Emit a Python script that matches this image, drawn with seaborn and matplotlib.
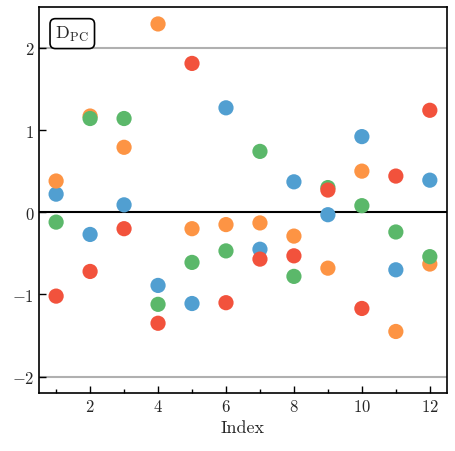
import matplotlib
matplotlib.use('Agg')
import matplotlib.pyplot as plt
from matplotlib.ticker import MultipleLocator
import pandas as pd
import seaborn as sns

# Values
index = [1, 2, 3, 4, 5, 6, 7, 8, 9, 10, 11, 12]
blue = [0.22, -0.27, 0.09, -0.89, -1.11, 1.27, -0.45, 0.37, -0.03, 0.92, -0.70, 0.39]
orange = [0.38, 1.17, 0.79, 2.29, -0.20, -0.15, -0.13, -0.29, -0.68, 0.50, -1.45, -0.63]
green = [-0.12, 1.14, 1.14, -1.12, -0.61, -0.47, 0.74, -0.78, 0.30, 0.08, -0.24, -0.54]
red = [-1.02, -0.72, -0.20, -1.35, 1.81, -1.10, -0.57, -0.53, 0.27, -1.17, 0.44, 1.24]

series = {'blue': blue, 'orange': orange, 'green': green, 'red': red}
colors = {'blue': '#519fd1', 'orange': '#fd9444', 'green': '#5bb86a', 'red': '#f2523c'}

df = pd.concat([pd.DataFrame({'Index': index, 'value': v, 'series': k}) for k, v in series.items()])

sns.set_style('white')
plt.rcParams['font.family'] = 'serif'
plt.rcParams['font.serif'] = ['cmr10']
plt.rcParams['mathtext.fontset'] = 'cm'
plt.rcParams['axes.formatter.use_mathtext'] = True

fig, ax = plt.subplots(figsize=(4.55, 4.52), dpi=100)

ax.axhline(2, color='#b0b0b0', lw=1.5, zorder=0)
ax.axhline(-2, color='#b0b0b0', lw=1.5, zorder=0)
ax.axhline(0, color='black', lw=1.5, zorder=1)

sns.scatterplot(data=df, x='Index', y='value', hue='series', palette=colors,
                s=120, linewidth=0, alpha=1, legend=False, ax=ax, zorder=3)

ax.set_xlim(0.5, 12.5)
ax.set_ylim(-2.2, 2.5)
ax.xaxis.set_major_locator(MultipleLocator(2))
ax.xaxis.set_minor_locator(MultipleLocator(1))
ax.yaxis.set_major_locator(MultipleLocator(1))
ax.tick_params(which='both', direction='in', labelsize=12, bottom=True, left=True,
               top=False, right=False, color='black')
ax.tick_params(which='major', length=5, width=1)
ax.tick_params(which='minor', length=3, width=1)
ax.tick_params(axis='y', which='minor', left=False)
for sp in ax.spines.values():
    sp.set_linewidth(1.2)
    sp.set_color('black')

ax.set_xlabel('Index', fontsize=13)
ax.set_ylabel('')

ax.text(0.04, 0.955, r'$\mathrm{D}_{\mathrm{PC}}$', transform=ax.transAxes,
        fontsize=13, va='top', ha='left',
        bbox=dict(boxstyle='round,pad=0.3', fc='white', ec='black', lw=1.2))

plt.subplots_adjust(left=0.086, right=0.982, top=0.983, bottom=0.128)
plt.savefig('out.png', dpi=100)
